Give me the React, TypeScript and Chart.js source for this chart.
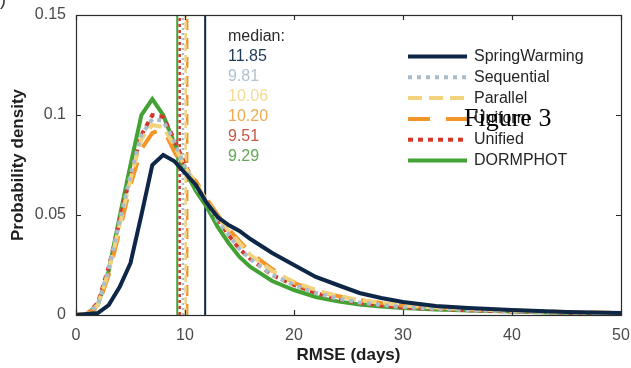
import React, { useEffect, useRef } from "react";
import { Chart, registerables } from "chart.js";

Chart.register(...registerables);

const XS = [0, 1, 2, 3, 4, 5, 6, 7, 8, 9, 10, 11, 12, 13, 14, 15, 16, 18, 20, 22, 24, 26, 28, 30, 33, 36, 40, 45, 50];

const SERIES_NAMES = ["SpringWarming", "Sequential", "Parallel", "Uniform", "Unified", "DORMPHOT"];

const springWarming = [0, 0.0005, 0.001, 0.005, 0.014, 0.026, 0.05, 0.075, 0.08, 0.077, 0.071, 0.065, 0.056, 0.049, 0.045, 0.042, 0.038, 0.031, 0.025, 0.019, 0.015, 0.011, 0.0085, 0.0065, 0.0045, 0.0035, 0.0025, 0.0015, 0.001];
const sequential = [0, 0.0005, 0.005, 0.023, 0.047, 0.07, 0.09, 0.098, 0.097, 0.087, 0.074, 0.064, 0.056, 0.047, 0.04, 0.033, 0.028, 0.02, 0.015, 0.011, 0.0082, 0.0063, 0.005, 0.004, 0.0031, 0.0025, 0.0018, 0.0012, 0.0008];
const parallel = [0, 0.0005, 0.005, 0.022, 0.045, 0.068, 0.088, 0.095, 0.094, 0.085, 0.074, 0.066, 0.057, 0.049, 0.042, 0.036, 0.03, 0.022, 0.0165, 0.0125, 0.0095, 0.0075, 0.006, 0.0048, 0.0037, 0.0029, 0.0021, 0.0014, 0.0009];
const uniform = [0, 0.0005, 0.004, 0.02, 0.042, 0.065, 0.083, 0.091, 0.093, 0.082, 0.072, 0.067, 0.058, 0.05, 0.043, 0.037, 0.031, 0.023, 0.016, 0.012, 0.0095, 0.0075, 0.006, 0.0048, 0.0037, 0.003, 0.0022, 0.0015, 0.001];
const unified = [0, 0.0005, 0.006, 0.024, 0.047, 0.07, 0.09, 0.1, 0.099, 0.088, 0.075, 0.065, 0.057, 0.048, 0.04, 0.033, 0.028, 0.02, 0.015, 0.011, 0.008, 0.006, 0.0048, 0.0038, 0.003, 0.0024, 0.0018, 0.0012, 0.0008];
const dormphot = [0, 0.0005, 0.005, 0.022, 0.049, 0.075, 0.1, 0.108, 0.1, 0.086, 0.072, 0.062, 0.054, 0.044, 0.036, 0.029, 0.024, 0.017, 0.0125, 0.009, 0.0068, 0.0052, 0.0042, 0.0035, 0.0028, 0.0022, 0.0017, 0.001, 0.0005];

const MEDIANS = [11.85, 9.81, 10.06, 10.2, 9.51, 9.29];
const MEDIAN_LABELS = ["11.85", "9.81", "10.06", "10.20", "9.51", "9.29"];

const X_TICKS = [0, 10, 20, 30, 40, 50];
const Y_TICKS = [0, 0.05, 0.1, 0.15];

const COLORS = ["#0e2747", "#a9bccb", "#f2d27c", "#f3962a", "#d4382b", "#43a234"];
const TEXT_COLORS = ["#1f3a58", "#b1c2d2", "#f4da94", "#eeaa52", "#c45a44", "#62a853"];
const DASHES: number[][] = [[], [4, 5], [14, 7], [22, 16], [5, 5], []];

const FONT = '"Liberation Sans", Arial, sans-serif';

export default function App() {
  const ref = useRef<HTMLCanvasElement | null>(null);

  useEffect(() => {
    const canvas = ref.current;
    if (!canvas) return;
    const values = [springWarming, sequential, parallel, uniform, unified, dormphot];

    const curveSets = values.map((ys, i) => ({
      label: SERIES_NAMES[i],
      data: XS.map((x, k) => ({ x, y: ys[k] })),
      borderColor: COLORS[i],
      backgroundColor: COLORS[i],
      borderWidth: 4,
      borderDash: DASHES[i],
      borderCapStyle: "butt" as const,
      borderJoinStyle: "miter" as const,
      pointRadius: 0,
      tension: 0,
      fill: false,
    }));

    const medianSets = MEDIANS.map((m, i) => ({
      label: "median " + SERIES_NAMES[i],
      data: [
        { x: m, y: 0 },
        { x: m, y: 0.15 },
      ],
      borderColor: COLORS[i],
      borderWidth: i === 0 || i === 5 ? 2 : 2.5,
      borderDash: DASHES[i].length ? DASHES[i].map((d) => Math.max(2, Math.round(d / 2))) : [],
      pointRadius: 0,
      fill: false,
    }));

    const overlay = {
      id: "overlay",
      afterDatasetsDraw(chart: any) {
        const ctx = chart.ctx as CanvasRenderingContext2D;
        const a = chart.chartArea;
        const xs = chart.scales.x;
        const ys = chart.scales.y;
        ctx.save();
        ctx.strokeStyle = "#2b2b2b";
        ctx.lineWidth = 1.2;
        ctx.setLineDash([]);
        ctx.strokeRect(Math.round(a.left) + 0.5, Math.round(a.top) + 0.5, a.right - a.left, a.bottom - a.top);
        ctx.beginPath();
        X_TICKS.forEach((t) => {
          const px = Math.round(xs.getPixelForValue(t)) + 0.5;
          ctx.moveTo(px, a.bottom);
          ctx.lineTo(px, a.bottom - 5);
          ctx.moveTo(px, a.top);
          ctx.lineTo(px, a.top + 5);
        });
        Y_TICKS.forEach((t) => {
          const py = Math.round(ys.getPixelForValue(t)) + 0.5;
          ctx.moveTo(a.left, py);
          ctx.lineTo(a.left + 5, py);
          ctx.moveTo(a.right, py);
          ctx.lineTo(a.right - 5, py);
        });
        ctx.stroke();

        ctx.textBaseline = "middle";
        ctx.textAlign = "left";
        ctx.font = "16px " + FONT;
        ctx.fillStyle = "#2a2a2a";
        ctx.fillText("median:", 228, 37);
        MEDIAN_LABELS.forEach((lab, i) => {
          ctx.fillStyle = TEXT_COLORS[i];
          ctx.fillText(lab, 228, 56.5 + i * 20);
        });

        SERIES_NAMES.forEach((name, i) => {
          const y = 56.5 + i * 20.8;
          ctx.beginPath();
          ctx.strokeStyle = COLORS[i];
          ctx.lineWidth = 4;
          ctx.lineCap = "butt";
          ctx.setLineDash(DASHES[i]);
          ctx.moveTo(408, y);
          ctx.lineTo(467, y);
          ctx.stroke();
          ctx.setLineDash([]);
          ctx.fillStyle = "#262626";
          ctx.fillText(name, 474, y);
        });

        ctx.fillStyle = "#1e1e1e";
        ctx.font = "bold 17px " + FONT;
        ctx.textAlign = "center";
        ctx.fillText("RMSE (days)", (a.left + a.right) / 2, 355);
        ctx.save();
        ctx.translate(18, (a.top + a.bottom) / 2);
        ctx.rotate(-Math.PI / 2);
        ctx.fillText("Probability density", 0, 0);
        ctx.restore();

        ctx.textAlign = "left";
        ctx.textBaseline = "alphabetic";
        ctx.fillStyle = "#000";
        ctx.font = '26px "Liberation Serif", "Times New Roman", serif';
        ctx.fillText("Figure 3", 464, 126);

        ctx.font = "18px " + FONT;
        ctx.fillStyle = "#333";
        ctx.fillText(")", 0, 5);
        ctx.restore();
      },
    };

    const chart = new Chart(canvas, {
      type: "line",
      data: { datasets: [...curveSets, ...medianSets] as any },
      options: {
        animation: false,
        responsive: false,
        maintainAspectRatio: false,
        layout: { padding: { top: 15, right: 10, left: 0, bottom: 0 } },
        plugins: { legend: { display: false }, tooltip: { enabled: false } },
        scales: {
          x: {
            type: "linear",
            min: 0,
            max: 50,
            afterFit: (s: any) => {
              s.height = 53;
              s.paddingLeft = 0;
              s.paddingRight = 0;
            },
            afterBuildTicks: (s: any) => {
              s.ticks = X_TICKS.map((v) => ({ value: v }));
            },
            grid: { display: false, drawTicks: false },
            border: { display: false },
            ticks: {
              padding: 11,
              color: "#4a4a4a",
              font: { family: FONT, size: 16 },
              maxRotation: 0,
              callback: (v: any) => String(v),
            },
          },
          y: {
            type: "linear",
            min: 0,
            max: 0.15,
            afterFit: (s: any) => {
              s.width = 76;
              s.paddingTop = 0;
              s.paddingBottom = 0;
            },
            afterBuildTicks: (s: any) => {
              s.ticks = Y_TICKS.map((v) => ({ value: v }));
            },
            grid: { display: false, drawTicks: false },
            border: { display: false },
            ticks: {
              padding: 10,
              color: "#4a4a4a",
              font: { family: FONT, size: 16 },
              callback: (v: any) => String(Number(Number(v).toFixed(2))),
            },
          },
        },
      },
      plugins: [overlay],
    });
    return () => chart.destroy();
  }, []);

  return (
    <div style={{ position: "fixed", left: 0, top: 0, width: 631, height: 368, background: "#fff" }}>
      <canvas ref={ref} width={631} height={368} style={{ display: "block", width: 631, height: 368 }} />
    </div>
  );
}
